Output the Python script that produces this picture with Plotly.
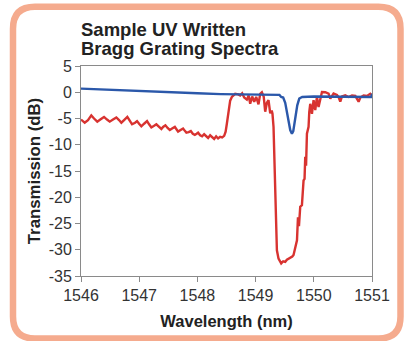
import plotly.graph_objects as go

# ---------------- data ----------------
red_wl = [1546.000, 1546.064, 1546.120, 1546.177, 1546.224, 1546.280, 1546.344, 1546.396, 1546.447, 1546.494,
          1546.550, 1546.607, 1546.654, 1546.693, 1546.740, 1546.796, 1546.843, 1546.877, 1546.929, 1546.963,
          1546.998, 1547.037, 1547.084, 1547.135, 1547.170, 1547.209, 1547.256, 1547.295, 1547.342, 1547.381,
          1547.410, 1547.450, 1547.488, 1547.526, 1547.565, 1547.612, 1547.643, 1547.668, 1547.711, 1547.754,
          1547.788, 1547.811, 1547.849, 1547.887, 1547.921, 1547.956, 1547.987, 1548.012, 1548.047, 1548.081,
          1548.116, 1548.150, 1548.184, 1548.219, 1548.253, 1548.288, 1548.322, 1548.356, 1548.391, 1548.425,
          1548.460, 1548.485, 1548.506, 1548.534, 1548.563, 1548.592, 1548.649, 1548.701, 1548.735, 1548.769,
          1548.804, 1548.850, 1548.881, 1548.907, 1548.941, 1548.976, 1549.010, 1549.050, 1549.079, 1549.108,
          1549.139, 1549.165, 1549.194, 1549.222, 1549.251, 1549.277, 1549.290, 1549.308, 1549.325, 1549.349,
          1549.366, 1549.394, 1549.440, 1549.474, 1549.509, 1549.538, 1549.569, 1549.595, 1549.630, 1549.652,
          1549.681, 1549.711, 1549.728, 1549.745, 1549.767, 1549.796, 1549.824, 1549.841, 1549.853, 1549.867,
          1549.882, 1549.910, 1549.922, 1549.939, 1549.968, 1549.996, 1550.025, 1550.054, 1550.082, 1550.111,
          1550.140, 1550.197, 1550.254, 1550.283, 1550.312, 1550.340, 1550.398, 1550.429, 1550.455, 1550.484,
          1550.541, 1550.598, 1550.656, 1550.713, 1550.770, 1550.799, 1550.856, 1550.913, 1550.971, 1551.000]
red_db = [-5.2, -5.8, -5.3, -4.4, -5.0, -5.6, -5.1, -4.7, -5.2, -5.6,
          -5.2, -4.8, -5.3, -5.8, -5.3, -4.7, -5.5, -6.1, -5.8, -5.5,
          -6.0, -6.5, -6.0, -5.5, -6.1, -6.7, -6.4, -6.1, -6.6, -7.0,
          -6.6, -6.3, -6.8, -7.2, -6.9, -6.6, -7.1, -7.5, -7.2, -6.9,
          -7.4, -7.7, -7.6, -7.4, -7.9, -8.1, -7.9, -7.7, -8.2, -8.4,
          -8.0, -8.3, -8.7, -8.2, -8.6, -8.9, -8.4, -8.8, -8.5, -8.6,
          -8.3, -7.5, -6.0, -3.4, -1.6, -0.9, -0.3, -0.4, -0.6, -0.2,
          -1.0, -1.4, -0.6, -2.2, -0.8, -1.8, -0.9, -2.3, -0.3, 0.0,
          -0.8, -3.7, -2.0, -1.5, -4.0, -3.5, -4.1, -6.6, -14.2, -23.7,
          -30.1, -31.7, -32.6, -32.2, -32.3, -31.9, -31.7, -31.4, -31.3, -31.0,
          -29.5, -28.2, -23.8, -25.5, -21.8, -21.5, -16.8, -16.5, -12.3, -14.0,
          -7.9, -6.6, -3.8, -2.2, -4.1, -1.5, -3.4, -0.9, -2.8, -1.2,
          0.06, 0.0, -0.25, -1.2, -0.6, -0.25, -0.5, -1.0, -1.8, -0.8,
          -0.6, -0.9, -0.6, -0.7, -1.8, -1.0, -0.6, -0.7, -0.3, -0.6]

blue_wl = [1546.0, 1546.5, 1547.0, 1547.5, 1548.0, 1548.4, 1548.7, 1549.0, 1549.3, 1549.41,
           1549.44, 1549.474, 1549.509, 1549.535, 1549.560, 1549.595, 1549.624, 1549.647, 1549.681, 1549.716,
           1549.750, 1549.801, 1550.0, 1550.5, 1550.95, 1550.99, 1551.0]
blue_db = [0.7, 0.45, 0.2, 0.0, -0.2, -0.35, -0.4, -0.35, -0.4, -0.5,
           -0.9, -1.0, -2.0, -3.5, -5.3, -7.2, -7.9, -7.4, -5.0, -2.5,
           -1.2, -0.9, -0.8, -0.9, -1.0, -0.9, -0.3]

x_ticks = [1546, 1547, 1548, 1549, 1550, 1551]
y_ticks = [5, 0, -5, -10, -15, -20, -25, -30, -35]

title_lines = ["Sample UV Written", "Bragg Grating Spectra"]
x_title = "Wavelength (nm)"
y_title = "Transmission (dB)"

# ---------------- layout geometry ----------------
W, H = 404, 341
ML, MR, MT, MB = 81, 32, 66, 65
PW = W - ML - MR
PH = H - MT - MB


def px(xp):
    return (xp - ML) / PW


def py(yp):
    return (H - MB - yp) / PH


def rounded_rect(L, T, R, B, r):
    p = []
    p.append(f"M {px(L + r)},{py(T)}")
    p.append(f"L {px(R - r)},{py(T)}")
    p.append(f"Q {px(R)},{py(T)} {px(R)},{py(T + r)}")
    p.append(f"L {px(R)},{py(B - r)}")
    p.append(f"Q {px(R)},{py(B)} {px(R - r)},{py(B)}")
    p.append(f"L {px(L + r)},{py(B)}")
    p.append(f"Q {px(L)},{py(B)} {px(L)},{py(B - r)}")
    p.append(f"L {px(L)},{py(T + r)}")
    p.append(f"Q {px(L)},{py(T)} {px(L + r)},{py(T)}")
    p.append("Z")
    return " ".join(p)


FONT = "Liberation Sans, Arial, sans-serif"

fig = go.Figure()
fig.add_trace(go.Scatter(x=red_wl, y=red_db, mode="lines",
                         line=dict(color="#D83330", width=2.4), showlegend=False))
fig.add_trace(go.Scatter(x=blue_wl, y=blue_db, mode="lines",
                         line=dict(color="#2B58AA", width=2.4), showlegend=False))

title_annots = [dict(text=f"<b>{t}</b>", xref="paper", yref="paper",
                     x=px(79), y=py(yc), xanchor="left", yanchor="middle", align="left",
                     showarrow=False, font=dict(size=18.5, color="#222222", family=FONT))
                for t, yc in zip(title_lines, [29.5, 48.5])]

fig.update_layout(
    width=W, height=H,
    margin=dict(l=ML, r=MR, t=MT, b=MB, pad=0),
    paper_bgcolor="white", plot_bgcolor="white",
    font=dict(family=FONT, color="#333333", size=15),
    showlegend=False,
    xaxis=dict(range=[1546, 1551], tickvals=x_ticks, ticktext=[str(v) for v in x_ticks],
               showgrid=False, zeroline=False, showline=True, linecolor="#8a8a8a", linewidth=1,
               mirror=True, ticks="outside", ticklen=5, tickcolor="#8a8a8a", automargin=False,
               tickfont=dict(size=16, color="#333333"),
               title=dict(text=f"<b>{x_title}</b>", font=dict(size=16.5, color="#222222"), standoff=12)),
    yaxis=dict(range=[-35, 5], tickvals=y_ticks, ticktext=[str(v) for v in y_ticks],
               showgrid=False, zeroline=False, showline=True, linecolor="#8a8a8a", linewidth=1,
               mirror=True, ticks="outside", ticklen=5, tickcolor="#8a8a8a", automargin=False,
               tickfont=dict(size=16, color="#333333"),
               title=dict(text=f"<b>{y_title}</b>", font=dict(size=16.8, color="#222222"), standoff=3)),
    shapes=[dict(type="path", xref="paper", yref="paper",
                 path=rounded_rect(13, 6.7, 400.5, 338.5, 22),
                 line=dict(color="#F5AB8E", width=6.5), fillcolor="rgba(0,0,0,0)", layer="below")],
    annotations=title_annots,
)

fig.write_html("out.html", config={"displayModeBar": False},
               post_script="document.body.style.margin='0px';document.body.style.overflow='hidden';")
